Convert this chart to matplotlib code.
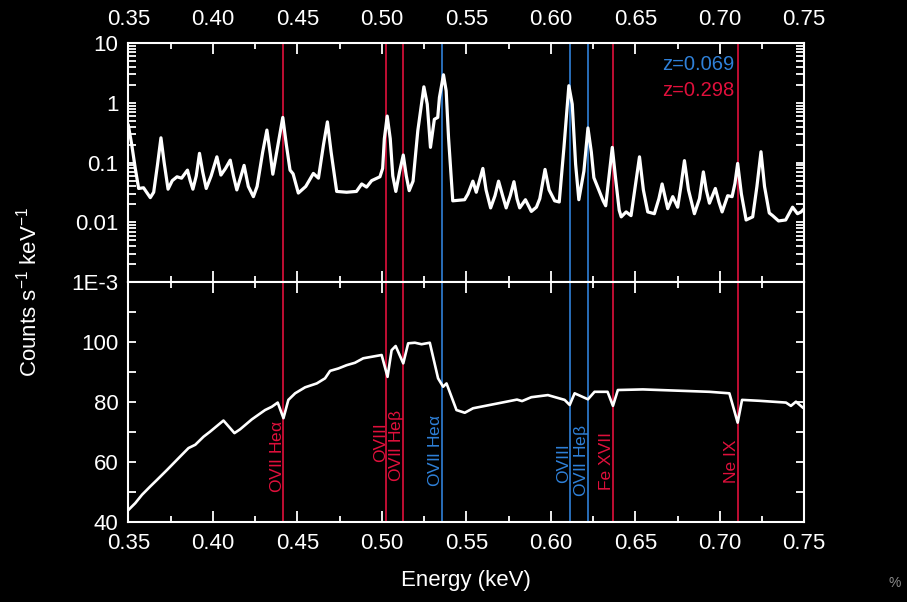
import matplotlib
matplotlib.use('Agg')
import matplotlib.pyplot as plt
from matplotlib.ticker import MultipleLocator, FixedLocator, FixedFormatter, LogLocator, NullFormatter

plt.rcParams['font.family'] = ['Liberation Sans', 'DejaVu Sans']
plt.rcParams['mathtext.default'] = 'regular'

# top panel: source spectrum (log)
top_e = [0.3500, 0.3520, 0.3541, 0.3561, 0.3590, 0.3630, 0.3650, 0.3672, 0.3693, 0.3712,
         0.3735, 0.3760, 0.3788, 0.3815, 0.3850, 0.3866, 0.3882, 0.3902, 0.3921, 0.3940,
         0.3961, 0.3990, 0.4024, 0.4048, 0.4075, 0.4103, 0.4122, 0.4142, 0.4163, 0.4185,
         0.4210, 0.4240, 0.4262, 0.4295, 0.4320, 0.4340, 0.4355, 0.4380, 0.4414, 0.4435,
         0.4457, 0.4475, 0.4506, 0.4550, 0.4595, 0.4625, 0.4655, 0.4678, 0.4700, 0.4733,
         0.4792, 0.4850, 0.4881, 0.4910, 0.4940, 0.4989, 0.5005, 0.5015, 0.5032, 0.5050,
         0.5065, 0.5083, 0.5105, 0.5127, 0.5145, 0.5162, 0.5185, 0.5213, 0.5249, 0.5269,
         0.5288, 0.5311, 0.5331, 0.5341, 0.5365, 0.5381, 0.5395, 0.5420, 0.5490, 0.5510,
         0.5539, 0.5559, 0.5598, 0.5617, 0.5644, 0.5670, 0.5691, 0.5715, 0.5736, 0.5760,
         0.5782, 0.5800, 0.5816, 0.5850, 0.5885, 0.5915, 0.5935, 0.5966, 0.5990, 0.6023,
         0.6050, 0.6078, 0.6107, 0.6127, 0.6147, 0.6166, 0.6196, 0.6220, 0.6240, 0.6255,
         0.6279, 0.6310, 0.6325, 0.6345, 0.6364, 0.6385, 0.6405, 0.6417, 0.6446, 0.6475,
         0.6500, 0.6525, 0.6548, 0.6574, 0.6613, 0.6640, 0.6659, 0.6692, 0.6722, 0.6751,
         0.6770, 0.6791, 0.6815, 0.6850, 0.6880, 0.6903, 0.6920, 0.6939, 0.6974, 0.6995,
         0.7014, 0.7047, 0.7073, 0.7090, 0.7106, 0.7128, 0.7156, 0.7195, 0.7220, 0.7244,
         0.7265, 0.7293, 0.7313, 0.7348, 0.7390, 0.7431, 0.7460, 0.7481, 0.7500]
top_c = [0.42, 0.20, 0.08, 0.037, 0.038, 0.026, 0.032, 0.09, 0.26, 0.10,
         0.036, 0.050, 0.058, 0.055, 0.075, 0.050, 0.036, 0.06, 0.143, 0.07,
         0.037, 0.06, 0.125, 0.062, 0.08, 0.11, 0.06, 0.035, 0.055, 0.09,
         0.040, 0.027, 0.040, 0.15, 0.35, 0.14, 0.064, 0.16, 0.57, 0.20,
         0.075, 0.065, 0.031, 0.040, 0.066, 0.055, 0.20, 0.48, 0.15, 0.033,
         0.032, 0.033, 0.044, 0.039, 0.050, 0.058, 0.08, 0.25, 0.60, 0.25,
         0.06, 0.033, 0.07, 0.134, 0.06, 0.034, 0.049, 0.34, 1.85, 0.95,
         0.18, 0.53, 0.57, 1.23, 2.94, 1.58, 0.26, 0.023, 0.024, 0.030,
         0.049, 0.032, 0.08, 0.035, 0.0175, 0.028, 0.049, 0.028, 0.0175, 0.028,
         0.048, 0.025, 0.0175, 0.024, 0.0153, 0.018, 0.025, 0.077, 0.035, 0.023,
         0.022, 0.18, 1.93, 0.95, 0.094, 0.024, 0.072, 0.38, 0.15, 0.056,
         0.038, 0.023, 0.019, 0.06, 0.18, 0.05, 0.016, 0.0124, 0.015, 0.013,
         0.04, 0.125, 0.035, 0.015, 0.014, 0.025, 0.044, 0.017, 0.027, 0.018,
         0.04, 0.108, 0.035, 0.014, 0.025, 0.07, 0.035, 0.021, 0.037, 0.022,
         0.015, 0.028, 0.027, 0.045, 0.097, 0.03, 0.011, 0.0124, 0.04, 0.152,
         0.04, 0.0144, 0.013, 0.0106, 0.011, 0.018, 0.014, 0.015, 0.017]

# bottom panel: background spectrum (linear)
bot_e = [0.3502, 0.3541, 0.3581, 0.3630, 0.3670, 0.3729, 0.3807, 0.3856, 0.3896, 0.3945,
         0.3984, 0.4063, 0.4128, 0.4162, 0.4231, 0.4309, 0.4349, 0.4384, 0.4418, 0.4447,
         0.4487, 0.4546, 0.4615, 0.4664, 0.4694, 0.4743, 0.4792, 0.4841, 0.4890, 0.4999,
         0.5034, 0.5058, 0.5082, 0.5127, 0.5156, 0.5196, 0.5235, 0.5284, 0.5333, 0.5363,
         0.5383, 0.5442, 0.5491, 0.5540, 0.5639, 0.5738, 0.5800, 0.5830, 0.5885, 0.5983,
         0.6082, 0.6112, 0.6141, 0.6220, 0.6259, 0.6336, 0.6368, 0.6397, 0.6545, 0.6742,
         0.6939, 0.7057, 0.7106, 0.7132, 0.7234, 0.7392, 0.7421, 0.7451, 0.7490]
bot_c = [44.0, 46.2, 49.0, 51.8, 54.0, 57.3, 61.8, 64.6, 65.7, 68.4,
         70.1, 73.8, 69.6, 70.9, 74.2, 77.3, 78.4, 79.8, 74.6, 80.7,
         82.9, 84.9, 86.2, 87.9, 90.4, 91.2, 92.3, 93.1, 94.6, 95.7,
         88.4, 97.3, 98.7, 92.9, 99.6, 99.8, 99.3, 99.8, 87.9, 85.1,
         86.2, 77.3, 76.4, 77.9, 79.0, 80.1, 80.8, 80.3, 81.6, 82.3,
         80.7, 79.0, 82.9, 80.9, 83.4, 83.4, 78.7, 84.0, 84.2, 83.8,
         83.4, 82.9, 73.1, 80.7, 80.4, 79.8, 78.7, 80.1, 78.2]

# line identifications
line_names = ['OVII He$\\alpha$', 'OVIII', 'OVII He$\\beta$', 'Fe XVII', 'Ne IX',
              'OVII He$\\alpha$', 'OVIII', 'OVII He$\\beta$']
line_e = [0.4417, 0.5027, 0.5126, 0.6368, 0.7107, 0.5356, 0.6112, 0.6220]
line_z = ['0.298', '0.298', '0.298', '0.298', '0.298', '0.069', '0.069', '0.069']
label_y = [49.6, 59.9, 53.2, 50.7, 52.9, 51.5, 52.9, 48.4]

red = '#e0103c'
blue = '#2f80d8'
zcol = {'0.298': red, '0.069': blue}

fig = plt.figure(figsize=(9.07, 6.02), dpi=100, facecolor='black')
ax1 = fig.add_axes([0.1415, 0.5311, 0.7452, 0.3975], facecolor='black')
ax2 = fig.add_axes([0.1415, 0.1334, 0.7452, 0.3977], facecolor='black', sharex=ax1)

ax1.plot(top_e, top_c, color='white', lw=2.3, zorder=3, solid_joinstyle='round')
ax2.plot(bot_e, bot_c, color='white', lw=1.9, zorder=3, solid_joinstyle='round')

for e, z in zip(line_e, line_z):
    for ax in (ax1, ax2):
        ax.axvline(e, color=zcol[z], lw=1.2, zorder=2)

for name, e, z, y in zip(line_names, line_e, line_z, label_y):
    ax2.text(e - 0.001, y, name, color=zcol[z], fontsize=12.5, rotation=90,
             rotation_mode='anchor', ha='left', va='baseline')

ax1.text(0.7087, 4.3, 'z=0.069', color=blue, fontsize=14.5, ha='right', va='center')
ax1.text(0.7087, 1.6, 'z=0.298', color=red, fontsize=14.5, ha='right', va='center')

ax1.set_xlim(0.35, 0.75)
ax1.set_yscale('log')
ax1.set_ylim(1e-3, 10)
ax1.yaxis.set_major_locator(FixedLocator([1e-3, 1e-2, 1e-1, 1, 10]))
ax1.yaxis.set_major_formatter(FixedFormatter(['1E-3', '0.01', '0.1', '1', '10']))
ax1.yaxis.set_minor_locator(LogLocator(base=10, subs=range(2, 10)))
ax1.yaxis.set_minor_formatter(NullFormatter())

ax2.set_ylim(40, 120)
ax2.yaxis.set_major_locator(FixedLocator([40, 60, 80, 100]))
ax2.yaxis.set_minor_locator(MultipleLocator(10))

for ax in (ax1, ax2):
    ax.xaxis.set_major_locator(MultipleLocator(0.05))
    ax.xaxis.set_minor_locator(MultipleLocator(0.025))
    for s in ax.spines.values():
        s.set_color('white')
        s.set_linewidth(1.5)
    ax.tick_params(which='both', direction='in', colors='white', width=1.3,
                   top=True, bottom=True, left=True, right=True, labelsize=16)
    ax.tick_params(which='major', length=8)
    ax.tick_params(which='minor', length=4.5)
    ax.tick_params(axis='y', which='both', length=6, pad=7)

ax1.xaxis.set_major_formatter(plt.FuncFormatter(lambda v, p: '%.2f' % v))
ax1.tick_params(axis='x', labeltop=True, labelbottom=False, pad=9)
ax2.tick_params(axis='x', labeltop=False, labelbottom=True, pad=8)
ax2.xaxis.set_major_formatter(plt.FuncFormatter(lambda v, p: '%.2f' % v))

ax2.set_xlabel('Energy (keV)', color='white', fontsize=16, labelpad=12)
fig.text(0.031, 0.515, 'Counts s$^{-1}$ keV$^{-1}$', color='white', fontsize=16,
         rotation=90, ha='center', va='center')
fig.text(0.993, 0.02, '%', color='#8a8a8a', fontsize=10, ha='right', va='bottom')

fig.savefig('out.png', dpi=100, facecolor='black')
